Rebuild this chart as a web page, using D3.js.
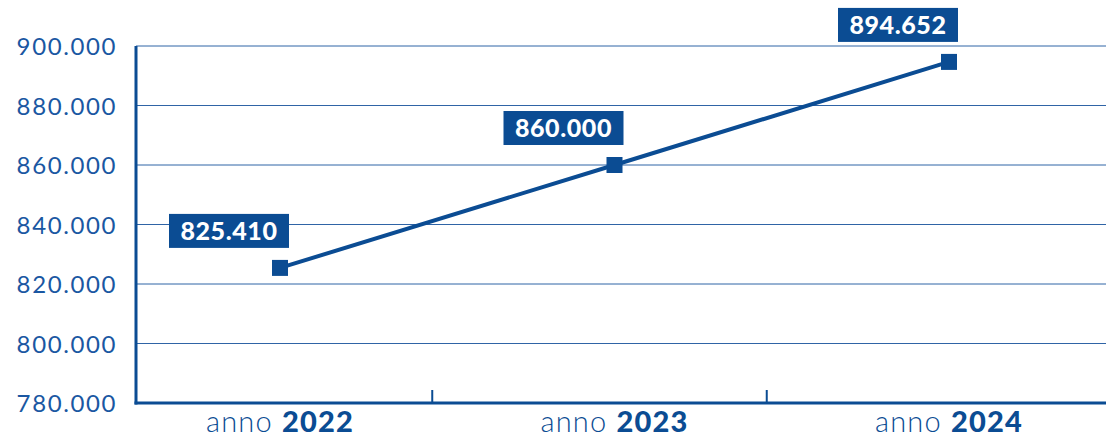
<!DOCTYPE html>
<html><head><meta charset="utf-8">
<script src="https://cdn.jsdelivr.net/npm/d3@7"></script>
<style>body{margin:0;background:#fff;} svg{display:block;}</style>
</head><body>
<svg id="c" width="1106" height="438"></svg>
<script>
const categories = ["2022", "2023", "2024"];
const values = [825410, 860000, 894652];
const valueLabels = ["825.410", "860.000", "894.652"];
const yTicks = [780000, 800000, 820000, 840000, 860000, 880000, 900000];
const yTickLabels = ["780.000", "800.000", "820.000", "840.000", "860.000", "880.000", "900.000"];

(function () {
const mL = 136, mR = 1106, mT = 46, mB = 403;
const col = "#0b4c93";
const txt = "#1a57a2";
const svg = d3.select("#c");

const y = d3.scaleLinear().domain([780000, 900000]).range([mB, mT]);
const x = d3.scalePoint().domain(categories).range([280, 949]);
const step = x.step();

// gridlines
svg.append("g").selectAll("line").data(yTicks.slice(1)).join("line")
  .attr("x1", mL).attr("x2", mR)
  .attr("y1", d => y(d)).attr("y2", d => y(d))
  .attr("stroke", "#2f64a6").attr("stroke-width", 1);

// y labels
svg.append("g").selectAll("text").data(yTicks).join("text")
  .attr("x", 117).attr("y", d => y(d) + 9)
  .attr("text-anchor", "end")
  .attr("font-family", "Lato, 'Open Sans', sans-serif")
  .attr("font-size", 24).attr("letter-spacing", 1.6).attr("fill", txt)
  .text((d, i) => yTickLabels[i]);

// axes
svg.append("line").attr("x1", mL).attr("x2", mL).attr("y1", mT).attr("y2", mB + 1.5)
  .attr("stroke", col).attr("stroke-width", 3);
svg.append("line").attr("x1", mL - 1.5).attr("x2", mR).attr("y1", mB).attr("y2", mB)
  .attr("stroke", col).attr("stroke-width", 3);

// x ticks between categories
svg.append("g").selectAll("line").data(categories.slice(0, -1)).join("line")
  .attr("x1", d => x(d) + step / 2 - 15).attr("x2", d => x(d) + step / 2 - 15)
  .attr("y1", mB - 13).attr("y2", mB)
  .attr("stroke", col).attr("stroke-width", 2);

// x labels
const xl = svg.append("g").selectAll("text").data(categories).join("text")
  .attr("x", d => x(d)).attr("y", 432)
  .attr("text-anchor", "middle")
  .attr("font-family", "Lato, 'Open Sans', sans-serif")
  .attr("font-size", 29).attr("letter-spacing", 1.2).attr("fill", col);
xl.append("tspan").attr("font-weight", 300).text("anno ");
xl.append("tspan").attr("font-weight", 900).text(d => d);

// line
const pts = categories.map((c, i) => [x(c), y(values[i])]);
svg.append("path").attr("d", d3.line()(pts))
  .attr("fill", "none").attr("stroke", col).attr("stroke-width", 4);

// markers
svg.append("g").selectAll("rect").data(pts).join("rect")
  .attr("x", d => d[0] - 8).attr("y", d => d[1] - 8)
  .attr("width", 16).attr("height", 16).attr("fill", col);

// value labels
const lg = svg.append("g").selectAll("g").data(pts).join("g")
  .attr("transform", d => `translate(${d[0] - 51},${d[1] - 37})`);
lg.append("rect").attr("x", -60).attr("y", -17).attr("width", 120).attr("height", 34).attr("fill", col);
lg.append("text").attr("x", 0).attr("y", 9)
  .attr("text-anchor", "middle")
  .attr("font-family", "Lato, 'Open Sans', sans-serif")
  .attr("font-weight", 900).attr("font-size", 25).attr("letter-spacing", 0.6).attr("fill", "#fff")
  .text((d, i) => valueLabels[i]);
})();
</script>
</body></html>
